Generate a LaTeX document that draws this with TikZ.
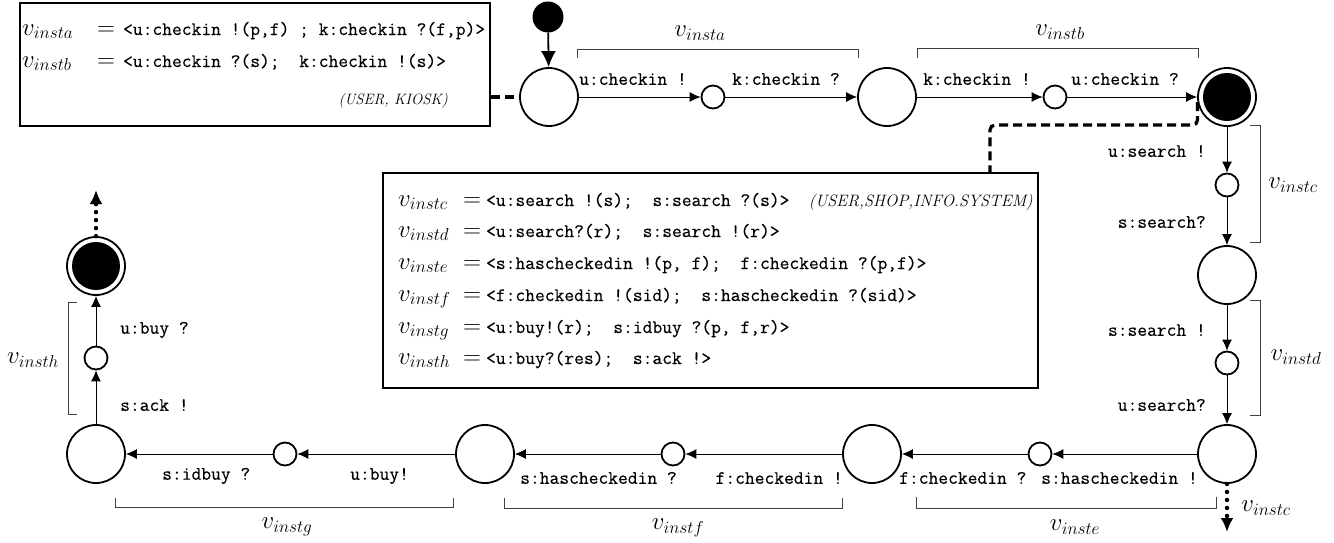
\documentclass[tikz,border=0pt]{standalone}
\usepackage{fontspec}
\setmonofont{Latin Modern Mono}[FakeBold=0.35]
\usetikzlibrary{arrows.meta}
\newcommand{\vv}[1]{{\fontsize{26}{30}\selectfont$v_{#1}$}}
\newcommand{\eqs}{{\fontsize{26}{30}\selectfont$=$}}
\begin{document}
\begin{tikzpicture}[x=1pt,y=-1pt,
  state/.style={circle,draw,line width=1.8pt,minimum size=58pt,inner sep=0pt},
  small/.style={circle,draw,line width=1.8pt,minimum size=23pt,inner sep=0pt},
  initst/.style={circle,fill,minimum size=31pt,inner sep=0pt},
  finst/.style={state,path picture={\fill (path picture bounding box.center) circle (24pt);}},
  tr/.style={-{Latex[length=11pt,width=10pt]},line width=0.9pt},
  initarr/.style={-{Latex[length=16pt,width=15pt]},line width=1.8pt},
  lab/.style={font=\fontsize{19}{22}\selectfont\ttfamily,inner sep=0pt},
  vlab/.style={inner sep=0pt},
  brk/.style={draw=black!75,line width=0.8pt},
  box/.style={draw,line width=1.8pt,inner sep=0pt},
  dashc/.style={line width=3.2pt,dash pattern=on 9pt off 5pt},
  dotc/.style={line width=4.5pt,dash pattern=on 0pt off 8pt,line cap=round,-{Latex[length=14pt,width=13pt]}},
  row/.style={anchor=base west,inner sep=0pt,font=\fontsize{19}{22}\selectfont\ttfamily},
]
\useasboundingbox (0,0) rectangle (1334,542);

% ---------- boxes ----------
\node[box,minimum width=470pt,minimum height=123pt] (boxA) at (255,64.5) {};
\node[row] (a1) at (22,35) {\makebox[75pt][l]{\vv{insta}}\eqs\hspace{8pt}<u:checkin !(p,f) ; k:checkin ?(f,p)>};
\node[row] (a2) at (22,67) {\makebox[75pt][l]{\vv{instb}}\eqs\hspace{8pt}<u:checkin ?(s);~ k:checkin !(s)>};
\node[anchor=base east,inner sep=0pt,font=\fontsize{15}{17}\selectfont\itshape] (a3) at (448,104) {(USER, KIOSK)};

\node[box,minimum width=655pt,minimum height=215pt] (boxB) at (710.5,280.5) {};
\node[row] (b1) at (398,206) {\makebox[65pt][l]{\vv{instc}}\eqs\hspace{5pt}<u:search !(s);~ s:search ?(s)>};
\node[anchor=base east,inner sep=0pt,font=\fontsize{16.5}{18}\selectfont\itshape] (b1t) at (1033,206) {(USER,SHOP,INFO.SYSTEM)};
\node[row] (b2) at (398,237) {\makebox[65pt][l]{\vv{instd}}\eqs\hspace{5pt}<u:search?(r);~ s:search !(r)>};
\node[row] (b3) at (398,269) {\makebox[65pt][l]{\vv{inste}}\eqs\hspace{5pt}<s:hascheckedin !(p, f);~ f:checkedin ?(p,f)>};
\node[row] (b4) at (398,301) {\makebox[65pt][l]{\vv{instf}}\eqs\hspace{5pt}<f:checkedin !(sid);~ s:hascheckedin ?(sid)>};
\node[row] (b5) at (398,333) {\makebox[65pt][l]{\vv{instg}}\eqs\hspace{5pt}<u:buy!(r);~ s:idbuy ?(p, f,r)>};
\node[row] (b6) at (398,364) {\makebox[65pt][l]{\vv{insth}}\eqs\hspace{5pt}<u:buy?(res);~ s:ack !>};

% ---------- states ----------
\node[initst] (i0) at (548,17) {};
\node[state] (s1) at (549,97) {};
\node[small] (m1) at (713,97) {};
\node[state] (s2) at (887,97) {};
\node[small] (m2) at (1055,97) {};
\node[finst] (s3) at (1227,97) {};
\node[small] (m3) at (1227,185) {};
\node[state] (s4) at (1227,275) {};
\node[small] (m4) at (1227,363) {};
\node[state] (s5) at (1227,454) {};
\node[small] (m5) at (1040,454) {};
\node[state] (s6) at (872,454) {};
\node[small] (m6) at (673,454) {};
\node[state] (s7) at (485,454) {};
\node[small] (m7) at (285,454) {};
\node[state] (s8) at (96,454) {};
\node[small] (m8) at (96,358) {};
\node[finst] (s9) at (96,266) {};

% ---------- transitions ----------
\draw[initarr] (i0) -- (s1);
\draw[tr] (s1) -- (m1);
\draw[tr] (m1) -- (s2);
\draw[tr] (s2) -- (m2);
\draw[tr] (m2) -- (s3);
\draw[tr] (s3) -- (m3);
\draw[tr] (m3) -- (s4);
\draw[tr] (s4) -- (m4);
\draw[tr] (m4) -- (s5);
\draw[tr] (s5) -- (m5);
\draw[tr] (m5) -- (s6);
\draw[tr] (s6) -- (m6);
\draw[tr] (m6) -- (s7);
\draw[tr] (s7) -- (m7);
\draw[tr] (m7) -- (s8);
\draw[tr] (s8) -- (m8);
\draw[tr] (m8) -- (s9);

% ---------- labels ----------
\node[lab] (l1) at (633,79) {u:checkin !};
\node[lab] (l2) at (786,79) {k:checkin ?};
\node[lab] (l3) at (977,79) {k:checkin !};
\node[lab] (l4) at (1125,79) {u:checkin ?};
\node[lab,anchor=east] (l5) at (1206,151) {u:search !};
\node[lab,anchor=east] (l6) at (1206,222) {s:search?};
\node[lab,anchor=east] (l7) at (1206,330) {s:search !};
\node[lab,anchor=east] (l8) at (1206,405) {u:search?};
\node[lab,anchor=east] (l9) at (1198,478) {s:hascheckedin !};
\node[lab,anchor=west] (l10) at (899,478) {f:checkedin ?};
\node[lab,anchor=east] (l11) at (843,478) {f:checkedin !};
\node[lab,anchor=west] (l12) at (520,478) {s:hascheckedin ?};
\node[lab,anchor=west] (l13) at (350,476) {u:buy!};
\node[lab,anchor=west] (l14) at (162,476) {s:idbuy ?};
\node[lab,anchor=west] (l15) at (120,405) {s:ack !};
\node[lab,anchor=west] (l16) at (120,330) {u:buy ?};

% ---------- brackets ----------
\draw[brk] (577,58) -- (577,49) -- (858,49) -- (858,58);
\node[vlab] (va) at (700,33) {\vv{insta}};
\draw[brk] (917,58) -- (917,48) -- (1198,48) -- (1198,58);
\node[vlab] (vb) at (1060,32) {\vv{instb}};
\draw[brk] (1250,125) -- (1260,125) -- (1260,242) -- (1250,242);
\node[vlab] (vc) at (1293,185) {\vv{instc}};
\draw[brk] (1250,300) -- (1260,300) -- (1260,415) -- (1250,415);
\node[vlab] (vd) at (1296,357) {\vv{instd}};
\draw[brk] (916,497) -- (916,508) -- (1216,508) -- (1216,497);
\node[vlab] (ve) at (1075,527) {\vv{inste}};
\draw[brk] (504,498) -- (504,508) -- (842,508) -- (842,498);
\node[vlab] (vf) at (678,528) {\vv{instf}};
\draw[brk] (115,498) -- (115,507) -- (453,507) -- (453,498);
\node[vlab] (vg) at (287,527) {\vv{instg}};
\draw[brk] (77,302) -- (68,302) -- (68,414) -- (77,414);
\node[vlab] (vh) at (33,360) {\vv{insth}};

% ---------- dashed / dotted connectors ----------
\draw[dashc] (boxA.east |- s1) -- (s1);
\coordinate (c2) at (990,125);
\draw[dashc,rounded corners=5pt] (s3.190) |- (c2) -- (c2 |- boxB.north);
\coordinate (e1) at (1227,532);
\draw[dotc] (s5) -- (e1);
\node[vlab] (vc2) at (1266,508) {\vv{instc}};
\coordinate (e2) at (96,190);
\draw[dotc] (s9) -- (e2);
\end{tikzpicture}
\end{document}
